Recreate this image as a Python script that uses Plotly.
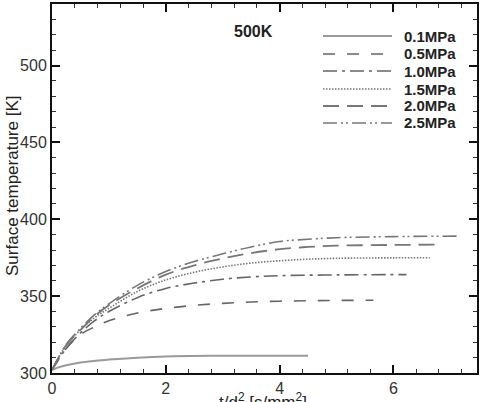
import plotly.graph_objects as go

series_names = ["0.1MPa", "0.5MPa", "1.0MPa", "1.5MPa", "2.0MPa", "2.5MPa"]

x_01 = [0, 0.1, 0.25, 0.5, 1.0, 1.5, 2.0, 3.0, 4.0, 4.5]
y_01 = [302, 303.5, 305, 306.8, 308.7, 310, 310.8, 311.2, 311.3, 311.3]

x_05 = [0, 0.1, 0.25, 0.5, 0.75, 1.0, 1.5, 2.0, 2.5, 3.0, 3.5, 4.0, 4.5, 5.0, 5.65]
y_05 = [302, 308, 316, 325, 330, 334, 339, 342, 344, 345.3, 346.2, 346.7, 347, 347.2, 347.3]

x_10 = [0, 0.1, 0.25, 0.5, 0.75, 1.0, 1.5, 2.0, 2.5, 3.0, 3.5, 4.0, 5.0, 6.23]
y_10 = [302, 308, 316, 326, 334, 340, 349, 355, 358.5, 361, 362.5, 363.3, 363.8, 364]

x_15 = [0, 0.1, 0.25, 0.5, 0.75, 1.0, 1.5, 2.0, 2.5, 3.0, 3.5, 4.0, 4.5, 5.0, 6.0, 6.64]
y_15 = [302, 309, 318, 328, 336, 342, 353, 360.5, 365.5, 369, 371.5, 373, 374, 374.6, 374.9, 375]

x_20 = [0, 0.1, 0.25, 0.5, 0.75, 1.0, 1.5, 2.0, 2.5, 3.0, 3.5, 4.0, 4.5, 5.0, 6.0, 6.85]
y_20 = [302, 309, 318, 328, 337, 344, 355, 364, 370, 374.5, 378, 380.5, 382, 382.8, 383.3, 383.5]

x_25 = [0, 0.1, 0.25, 0.5, 0.75, 1.0, 1.5, 2.0, 2.5, 3.0, 3.5, 4.0, 4.5, 5.0, 6.0, 7.14]
y_25 = [302, 309, 318.5, 329, 338, 345, 357, 366, 372.5, 377.5, 382, 385.5, 387, 388, 388.7, 389]

xs = [x_01, x_05, x_10, x_15, x_20, x_25]
ys = [y_01, y_05, y_10, y_15, y_20, y_25]

colors = ["#9a9a9a", "#666666", "#666666", "#777777", "#777777", "#777777"]
dashes = ["solid", "12px,12px", "14px,5px,3px,5px", "1.5px,1.5px", "16px,8px", "14px,4px,2px,3px,2px,4px"]
widths = [2, 1.6, 1.6, 1.6, 1.8, 1.6]

fig = go.Figure()
for name, x, y, c, d, w in zip(series_names, xs, ys, colors, dashes, widths):
    fig.add_trace(go.Scatter(x=x, y=y, mode="lines", name=name,
                             line=dict(color=c, dash=d, width=w, shape="spline"),
                             showlegend=False))

# manual legend (paper coordinates)
W, H = 482, 402
ml, mr, mt, mb = 52, 5, 4, 29
pw, ph = W - ml - mr, H - mt - mb
def px(xp):
    return (xp - ml) / pw
def py(yp):
    return 1 - (yp - mt) / ph

leg_y = [36, 54, 71, 89, 106, 123]
shapes = []
annotations = []
for name, yy, c, d, w in zip(series_names, leg_y, colors, dashes, widths):
    shapes.append(dict(type="line", xref="paper", yref="paper",
                       x0=px(323), x1=px(392), y0=py(yy), y1=py(yy),
                       line=dict(color=c, dash=d, width=w)))
    annotations.append(dict(text="<b>%s</b>" % name, xref="paper", yref="paper",
                            x=px(402), y=py(yy), xanchor="left", yanchor="middle",
                            showarrow=False, font=dict(size=15, color="#222", family="Arial")))

annotations.append(dict(text="<b>500K</b>", xref="paper", yref="paper",
                        x=px(253), y=py(32), xanchor="center", yanchor="middle",
                        showarrow=False, font=dict(size=16, color="#222", family="Arial")))
annotations.append(dict(text="t/d<sup>2</sup> [s/mm<sup>2</sup>]", xref="paper", yref="paper",
                        x=px(263), y=0, xanchor="center", yanchor="top", yshift=-15,
                        showarrow=False, font=dict(size=17, color="#222", family="Arial")))
annotations.append(dict(text="Surface temperature [K]", xref="paper", yref="paper",
                        x=px(12), y=py(186), xanchor="center", yanchor="middle", textangle=-90,
                        showarrow=False, font=dict(size=17, color="#222", family="Arial")))

axis_common = dict(showgrid=False, zeroline=False, showline=True, linecolor="#111",
                   linewidth=2, mirror="ticks", ticks="inside", ticklen=8, tickwidth=2,
                   tickcolor="#111",
                   tickfont=dict(size=16, color="#333", family="Arial"))

fig.update_layout(
    width=W, height=H,
    margin=dict(l=ml, r=mr, t=mt, b=mb),
    paper_bgcolor="white", plot_bgcolor="white",
    shapes=shapes, annotations=annotations,
    xaxis=dict(range=[0, 7.47], dtick=2, tick0=0, automargin=False,
               minor=dict(dtick=0.4, ticks="inside", ticklen=4, tickwidth=1, tickcolor="#333"),
               **axis_common),
    yaxis=dict(range=[300, 540], dtick=50, tick0=300, automargin=False,
               minor=dict(dtick=10, ticks="inside", ticklen=4, tickwidth=1, tickcolor="#333"),
               **axis_common),
)

fig.write_html("out.html")
